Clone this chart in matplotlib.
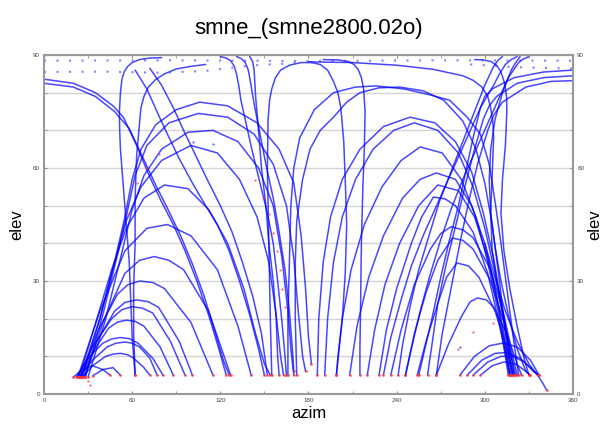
import matplotlib
matplotlib.use('Agg')
import matplotlib.pyplot as plt

plt.rcParams['font.family'] = ['Liberation Sans', 'DejaVu Sans']

# 衛星の軌跡 (azim, elev) -- 画像から読み取った点
# 左下の小さいアーチ
s1 = [(26, 4.5), (33, 7.5), (42, 10), (47, 10.6), (52, 10.8), (57, 10.4), (61, 9.5), (68, 7), (72, 5)]
s2 = [(24, 4.5), (33, 9), (43, 12.5), (49, 13.5), (55, 13.8), (60, 13.5), (65, 12.5), (72, 9.5), (77, 5)]
s3 = [(22, 4.5), (30, 9.5), (40, 13.5), (46, 14.6), (52, 15), (58, 14.7), (64, 13.5), (74, 9.5), (81, 5)]
s4 = [(25, 4.5), (33, 11), (44, 17.5), (50, 19.1), (56, 19.6), (62, 19.3), (68, 18), (79, 12.5), (88, 5)]
s5 = [(23, 4.5), (33, 12.5), (46, 20), (53, 22.4), (60, 23.2), (67, 22.8), (74, 21.5), (86, 14), (96, 5)]
s6 = [(27, 4.5), (36, 14), (48, 22), (55, 24.3), (63, 25), (71, 24.5), (78, 23), (92, 14), (101, 5)]
s7 = [(25, 4.5), (37, 17), (50, 26.5), (57, 29), (65, 30), (74, 29.6), (82, 28), (100, 19), (115, 5)]
s8 = [(28, 4.5), (40, 19), (55, 32), (65, 35.5), (75, 36.5), (85, 35.5), (95, 33), (112, 22), (127, 5)]
s9 = [(23, 4.5), (38, 22), (55, 38), (70, 44), (84, 45), (100, 42), (118, 33), (132, 18), (141, 5)]
s10 = [(20, 4.5), (26, 6.5), (33, 7.5), (40, 6.5), (45, 5)]
s11 = [(33, 4.8), (40, 6.5), (47, 7), (52, 5)]

# 左の大きいアーチ
L1 = [(25, 4.5), (38, 20), (48, 35), (55, 47), (60, 57), (66, 65), (76, 71.5), (90, 75.5), (106, 77.5),
      (125, 76.5), (145, 72), (160, 65), (170, 56), (175, 42), (178, 28), (180, 15), (182, 8)]
L2 = [(28, 4.5), (40, 21), (50, 37), (57, 49), (62, 58), (70, 66), (85, 72), (105, 74.5), (125, 73.5),
      (143, 69), (156, 61), (165, 50), (170, 36), (173, 22), (176, 10), (178, 6)]
L3 = [(30, 4.5), (42, 20), (52, 36), (60, 49), (68, 58), (80, 65), (98, 69.5), (115, 70), (132, 67),
      (146, 60), (156, 50), (162, 36), (166, 22), (168, 12), (170, 5)]
L4 = [(26, 4.5), (38, 20), (48, 35), (56, 46), (66, 55), (80, 62), (100, 66), (118, 64), (133, 57),
      (145, 47), (153, 35), (158, 21), (161, 10), (163, 5)]
L5 = [(24, 4.5), (36, 20), (46, 33), (56, 44), (68, 52), (82, 55.5), (98, 54.5), (112, 49), (125, 40),
      (136, 28), (144, 16), (150, 8), (154, 5)]

# 左端から降りてくる線
B1 = [(0, 83.6), (20, 82.5), (35, 80), (47, 76.5), (54, 73.5), (63, 66), (72, 57.6), (80, 51), (88, 45),
      (96, 38), (104, 30), (112, 21), (119, 12), (124, 5)]
B2 = [(0, 82.5), (20, 81.5), (35, 79), (48, 75), (58, 70.5), (67, 63), (76, 55.5), (85, 48.5), (93, 42),
      (101, 34.5), (109, 26), (116, 17), (122, 9), (126, 5)]
C1 = [(80, 89.3), (72, 89.2), (65, 88.8), (60, 88), (57, 87), (54.5, 85.5), (53, 83.5), (52, 80),
      (51.3, 75), (51.5, 70), (52, 65), (54, 55), (56, 45), (58, 35), (59, 25), (60, 15), (62, 5)]
C2 = [(110, 87.5), (100, 87), (90, 86.3), (82, 85), (76, 83.5), (71, 81.5), (68, 79), (66, 76), (65, 72),
      (63, 63), (62, 52), (62, 40), (61, 28), (61, 16), (62, 5)]
F1 = [(62, 86), (70, 81), (78, 74), (84, 69), (92, 62.5), (101, 56), (110, 50), (118, 45), (126, 38),
      (133, 30), (140, 21), (146, 12), (150, 5)]
F2 = [(72, 86.5), (80, 82), (88, 76), (95, 70), (103, 63.5), (111, 57), (120, 50), (128, 43), (135, 35),
      (142, 26), (148, 16), (152, 5)]
M1 = [(120, 89.6), (124, 89.2), (127, 88.5), (129.5, 87), (131, 85), (132.5, 82), (134, 78), (138, 71),
      (142, 64), (147, 56), (152, 48), (156, 40), (159, 30), (162, 19), (164, 10), (165, 5)]
M2 = [(131, 89.6), (134.5, 89), (137, 88), (139, 86), (140, 84), (143, 77), (147, 69), (151, 61),
      (156, 52), (160, 43), (164, 33), (167, 22), (169, 12), (170, 6)]
M3 = [(140, 89.6), (142, 88.3), (143, 86), (144, 79), (146, 70), (148, 60), (151, 50), (153, 40),
      (156, 30), (158, 20), (159, 10), (160, 5)]

# 中央付近
D1 = [(155, 5), (154, 20), (153, 40), (152, 60), (152.5, 73), (153.5, 78), (155, 81), (157.5, 84),
      (161, 86), (167, 87.3), (175, 88), (182, 88), (188, 87.5), (193, 86), (197, 83), (200, 80),
      (202, 76), (204, 67), (205, 57), (206, 45), (205, 32), (203, 20), (200, 10), (199, 5)]
D2 = [(190, 88.8), (200, 88.7), (207, 88.3), (211, 87.5), (214, 86), (216, 84), (217.5, 81), (218.5, 75),
      (218, 65), (217, 55), (216, 40), (215.5, 25), (215, 12), (215, 5)]

# 右の大きいアーチ
R1 = [(166, 5), (166, 20), (167, 35), (168, 50), (170, 60), (174, 68), (184, 75.5), (197, 80), (212, 81.5),
      (226, 81.8), (245, 81), (262, 79.5), (276, 78), (288, 73.5), (297, 69), (303, 61), (307, 51),
      (311, 40), (315, 28), (319, 16), (323, 5)]
R1b = [(172, 5), (171, 20), (171, 35), (172, 46), (176, 57), (181, 65), (188, 70), (197, 73.5), (206, 77.5),
       (215, 80), (228, 81.3), (242, 81.5), (258, 80.5), (272, 78), (285, 72.5), (294, 65), (300, 56),
       (305, 45), (309, 33), (313, 20), (317, 9), (319, 5)]
R2 = [(186, 5), (187, 20), (190, 35), (195, 47), (203, 57), (215, 65), (231, 71), (249, 73.5), (266, 72),
      (280, 67), (291, 59), (299, 48), (306, 36), (312, 22), (318, 10), (321, 5)]
R3 = [(191, 5), (193, 20), (197, 35), (203, 47), (212, 57), (224, 65), (238, 70), (252, 72), (268, 70),
      (282, 64), (292, 55), (300, 44), (307, 32), (313, 19), (318, 5)]
R4 = [(199, 5), (203, 20), (209, 33), (218, 45), (230, 55), (243, 62), (256, 65.6), (271, 64), (284, 57),
      (294, 47), (302, 35), (309, 22), (314, 10), (316, 5)]
R5 = [(208, 5), (213, 18), (221, 31), (231, 42), (244, 52), (256, 57), (267, 58.7), (280, 57), (291, 50),
      (300, 40), (307, 28), (313, 16), (317, 5)]
R6 = [(220, 5), (225, 17), (232, 29), (242, 40), (255, 50), (268, 55.5), (282, 54), (293, 47), (302, 36),
      (309, 24), (314, 12), (317, 5)]
R7 = [(228, 5), (233, 17), (240, 28), (250, 40), (257, 47), (265, 52.3), (273, 51.8), (280, 50), (292, 43),
      (302, 32), (309, 20), (315, 9), (317, 5)]
R8 = [(236, 5), (243, 17), (252, 29), (263, 38.5), (270, 42.6), (277, 44.4), (285, 43.6), (292, 41.5),
      (304, 33), (313, 21), (319, 10), (322, 5)]
R9 = [(246, 5), (252, 16), (260, 27), (268, 35.5), (278, 41.4), (285, 40.8), (292, 38.5), (304, 30),
      (313, 19), (318, 10), (320, 5)]
R10 = [(254, 5), (260, 14), (268, 24), (274, 31), (281, 34.8), (289, 34), (296, 31), (307, 22), (315, 12),
       (319, 5)]
R11 = [(267, 5), (275, 13), (284, 20.5), (290, 24.5), (295, 25.5), (301, 25), (306, 23), (315, 16),
       (322, 8), (325, 5)]
R12 = [(283, 5), (293, 10), (303, 12.8), (312, 13.5), (322, 12.5), (331, 9), (337, 5)]
R13 = [(288, 5), (298, 9), (307, 10.8), (315, 11), (324, 9.5), (331, 7), (336, 5)]
R14 = [(292, 5), (302, 8.5), (311, 10), (319, 10), (327, 8.5), (333, 6), (337, 5)]
R15 = [(297, 5), (305, 7.5), (313, 8.5), (321, 8), (328, 6), (331, 5)]

# 右端から降りてくる線
RB1 = [(360, 86), (340, 85.5), (320, 84), (305, 81), (300, 79), (297, 76), (292, 68), (287, 59), (282, 50),
       (276, 41), (270, 31), (264, 20), (258, 10), (255, 5)]
RB2 = [(360, 84.5), (340, 84), (322, 82.5), (308, 79), (303, 76.5), (299, 73), (293, 65), (287, 56),
       (281, 46), (274, 35), (268, 24), (264, 13), (261, 5)]
RB3 = [(360, 83.2), (345, 83), (328, 81.5), (312, 77.5), (306, 74), (302, 70), (295, 61), (289, 51),
       (283, 40), (277, 28), (271, 16), (267, 5)]
RM1 = [(322, 89.6), (318, 88.8), (314, 87.5), (310, 85), (306, 82), (297, 76), (289, 69), (281, 62),
       (274, 56), (266, 49), (258, 42), (250, 34), (243, 25), (236, 15), (231, 5)]
RM2 = [(330, 89.6), (326, 88.9), (323, 88), (316, 84), (309, 78), (301, 71), (293, 64), (285, 57),
       (277, 49), (270, 41), (263, 32), (256, 22), (250, 12), (246, 5)]
RM3 = [(312, 89.6), (309, 88.6), (306, 87), (300, 82), (293, 75), (285, 67), (277, 59), (269, 51),
       (262, 42), (255, 33), (249, 23), (244, 13), (241, 5)]
X1 = [(180, 88.2), (210, 88), (240, 87.3), (265, 86.2), (285, 84.5), (292, 83.3), (298, 81.5), (302, 79),
      (304, 76), (305.5, 72), (306, 68), (305, 58), (304, 48), (305, 38), (309, 28), (314, 18), (318, 8),
      (320, 5)]
RC1 = [(293, 88.8), (299, 88.7), (304, 88.3), (308, 87.3), (311, 85.5), (313.5, 82.5), (314.8, 79),
       (315, 75), (314, 66), (312, 57), (311, 48), (313, 38), (317, 28), (322, 18), (327, 9), (330, 5)]
RC2 = [(324, 89.6), (321, 88), (318, 86), (312, 80), (307, 73), (304, 65), (303, 57), (304, 48), (307, 39),
       (311, 30), (316, 21), (322, 12), (328, 6), (331, 5)]
RT = [(300, 40), (306, 32), (314, 22), (322, 14), (330, 8), (336, 5), (340, 2.5), (342, 1)]

tracks = [s1, s2, s3, s4, s5, s6, s7, s8, s9, s10, s11, L1, L2, L3, L4, L5, B1, B2, C1, C2, F1, F2,
          M1, M2, M3, D1, D2, R1, R1b, R2, R3, R4, R5, R6, R7, R8, R9, R10, R11, R12, R13, R14, R15,
          RB1, RB2, RB3, RM1, RM2, RM3, X1, RC1, RC2, RT]

# 天頂付近の点線 (サンプリングが粗い軌跡)
dt1 = [(0, 88.5), (90, 88.6), (180, 88.4), (270, 88.6), (360, 88.5)]
dt2 = [(0, 85.5), (40, 85.6), (80, 85.3), (110, 85.8), (140, 87.2), (175, 88)]
dt3 = [(290, 87.5), (320, 86.8), (340, 86.6), (360, 86.4)]
dotted = [dt1, dt2, dt3]

# 赤い点 (散在)
red_az = [78, 69.5, 63, 57, 143.6, 149, 153, 156, 158.5, 160.6, 162, 164, 292, 282, 305.6, 31, 30]
red_el = [63.7, 60, 56, 47.8, 56.8, 52, 47.8, 42.7, 38, 33, 28, 23, 16.5, 12, 18.8, 2.4, 3.5]
blue_az = [101.6, 115, 283]
blue_el = [67, 66.4, 12.5]

fig = plt.figure(figsize=(6.08, 4.30), dpi=100)
ax = fig.add_axes([0.0724, 0.0837, 0.870, 0.7883])

for tr in tracks:
    az = [p[0] for p in tr]
    el = [p[1] for p in tr]
    ax.plot(az, el, color='#0000ff', lw=1.1, alpha=0.72, solid_capstyle='round', solid_joinstyle='round')

for tr in dotted:
    az = [p[0] for p in tr]
    el = [p[1] for p in tr]
    ax.plot(az, el, color='#3030ff', lw=1.5, alpha=0.6, linestyle=(0, (1, 5)))

# 軌跡の端 (低仰角) に赤い点
end_az, end_el = [], []
for tr in tracks:
    for p in (tr[0], tr[-1]):
        if p[1] <= 8:
            end_az.append(p[0])
            end_el.append(p[1])
ax.plot(end_az, end_el, 'o', color='#ff3030', ms=2.0, alpha=0.75, mew=0)
ax.plot(red_az, red_el, 'o', color='#ff4040', ms=1.6, alpha=0.8, mew=0)
ax.plot(blue_az, blue_el, 'o', color='#4040ff', ms=1.6, alpha=0.8, mew=0)

ax.set_xlim(0, 360)
ax.set_ylim(0, 90)
ax.set_xticks(range(0, 361, 60))
ax.set_xticks(range(0, 361, 30), minor=True)
ax.set_yticks(range(0, 91, 30))
ax.set_yticks(range(0, 91, 10), minor=True)
ax.grid(True, axis='y', which='both', color='#d4d4d4', lw=1.0)
ax.set_axisbelow(True)
ax.tick_params(which='both', direction='in', length=2.5, color='#888888', labelsize=4.5,
               right=True, top=True, labelright=True, labelcolor='#444444', pad=3)
for sp in ax.spines.values():
    sp.set_color('#999999')
    sp.set_linewidth(1.5)

ax.set_title('smne_(smne2800.02o)', fontsize=16, pad=15)
ax.set_xlabel('azim', fontsize=12, labelpad=2)
ax.set_ylabel('elev', fontsize=12, labelpad=6)
ax.text(1.042, 0.5, 'elev', transform=ax.transAxes, rotation=90, fontsize=12,
        ha='center', va='center')

fig.savefig('out.png', dpi=100)
